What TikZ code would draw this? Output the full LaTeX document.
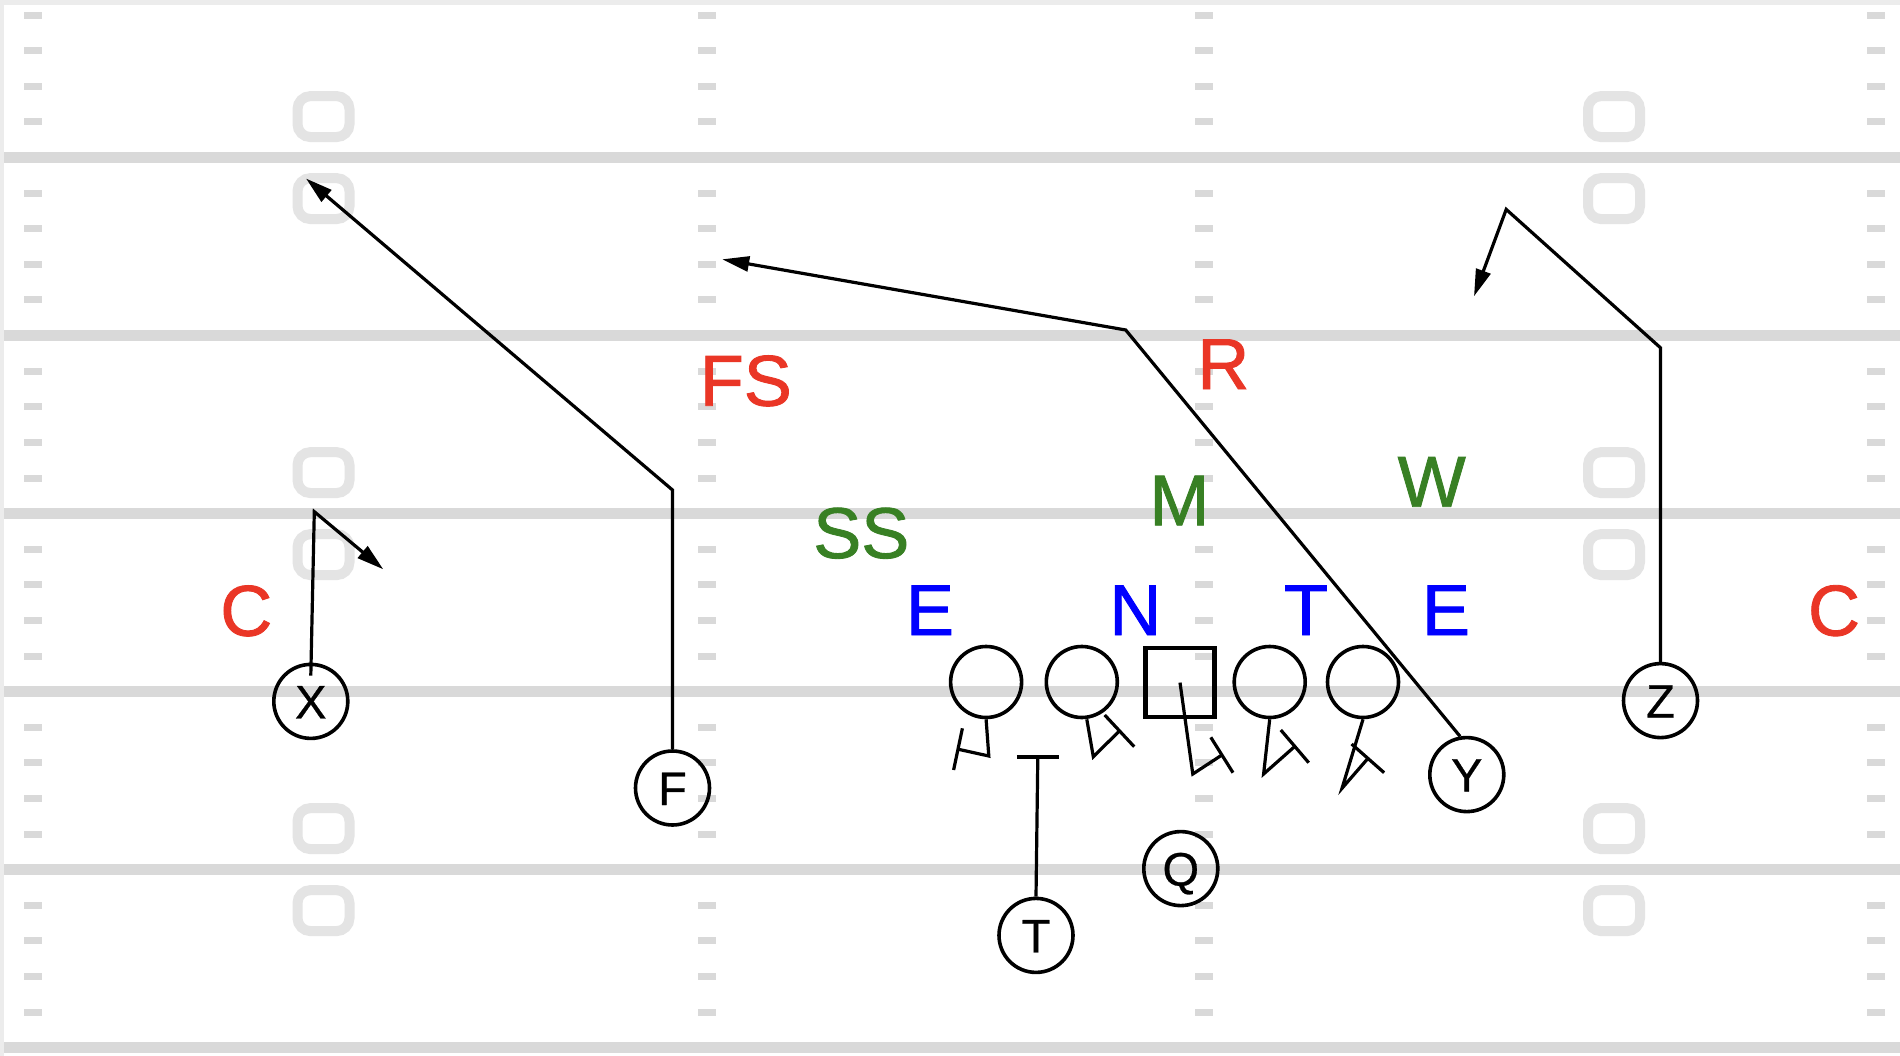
\documentclass[tikz,border=0pt]{standalone}
\usepackage{fontspec}
\setmainfont{Liberation Sans}
\newfontfamily\labelfam[FakeBold=1.2]{Liberation Sans}
\newfontfamily\playerfam[FakeBold=0.6]{Liberation Sans}
\usetikzlibrary{arrows.meta}

\definecolor{dred}{RGB}{234,54,38}
\definecolor{dgreen}{RGB}{56,128,36}
\definecolor{dblue}{RGB}{0,0,255}
\definecolor{yardgray}{RGB}{217,217,217}
\definecolor{numgray}{RGB}{228,228,228}
\definecolor{framegray}{RGB}{236,236,236}

\newcommand\deffont{\labelfam\fontsize{72}{72}\selectfont}
\newcommand\plfont{\playerfam\fontsize{47}{47}\selectfont}

\tikzset{
  player/.style={circle, draw, line width=3.6pt, minimum size=74pt, inner sep=0pt, font=\plfont, text height=34pt, text depth=0pt},
  lineman/.style={circle, draw, line width=3.6pt, minimum size=71pt, inner sep=0pt},
  snapbox/.style={rectangle, draw, line width=4.2pt, minimum size=69pt, inner sep=0pt},
  route/.style={line width=3.2pt, -{Triangle[length=27pt,width=15pt]}},
  block/.style={line width=3.2pt},
  defd/.style={font=\deffont, anchor=base, inner sep=0pt}
}

\begin{document}
\begin{tikzpicture}[x=1pt, y=-1pt]
% field frame
\useasboundingbox (0,0) rectangle (1900,1056);
\fill[framegray] (0,0) rectangle (1900,1056);
\fill[white] (4.2,4.7) rectangle (1900,1056);

% yard lines
\foreach \yl in {157.6,335.6,513.6,691.6,869.6,1047.6}
  \fill[yardgray] (4.2,\yl-5.5) rectangle (1900,\yl+5.5);

% hash marks
\foreach \hx in {33,706.5,1204,1876}
  \foreach \yl in {-20.4,157.6,335.6,513.6,691.6,869.6}
    \foreach \k in {1,...,4}
      \fill[yardgray] (\hx-9,\yl+35.6*\k-3.5) rectangle (\hx+9,\yl+35.6*\k+3.5);

% yard numbers
\foreach \nx in {323.5,1614}
  \foreach \ny in {116.6,198.6,472.6,554.6,828.6,910.6}
    \draw[numgray, line width=10pt, rounded corners=13pt] (\nx-26,\ny-20.5) rectangle (\nx+26,\ny+20.5);

% offensive line
\node[lineman] (lt) at (986.1,682) {};
\node[lineman] (lg) at (1081.8,682) {};
\node[snapbox] (ctr) at (1180,682.6) {};
\node[lineman] (rg) at (1269.7,682) {};
\node[lineman] (rt) at (1363,682) {};

% backs and receivers
\node[player] (xr) at (310.8,701.4) {X};
\node[player] (fb) at (672.5,788) {F};
\node[player] (tb) at (1036,935.4) {T};
\node[player] (qb) at (1180.8,868.6) {Q};
\node[player] (ye) at (1466.8,774.6) {Y};
\node[player] (zr) at (1660.5,700.6) {Z};

% defense
\node[defd, dred] (cl) at (246.3,635.7) {C};
\node[defd, dred] (cr) at (1834,635.5) {C};
\node[defd, dred] (fs) at (745.8,405.7) {FS};
\node[defd, dred] (rov) at (1223.3,389) {R};
\node[defd, dgreen] (ss) at (861.3,558) {SS};
\node[defd, dgreen] (mik) at (1179.4,525.3) {M};
\node[defd, dgreen] (wil) at (1431.7,506.7) {W};
\node[defd, dblue] (el) at (930,635) {E};
\node[defd, dblue] (nt) at (1135.4,635) {N};
\node[defd, dblue] (dt) at (1306,635) {T};
\node[defd, dblue] (er) at (1446,635) {E};

% route turns and ends
\coordinate (xbreak) at (314.3,511.7);
\coordinate (xend) at (383.3,569.3);
\coordinate (fbreak) at (672.5,490);
\coordinate (fend) at (306,178.5);
\coordinate (ybreak) at (1125.7,330);
\coordinate (yend) at (722.2,259.3);
\coordinate (zbreak) at (1660.5,347.8);
\coordinate (zturn) at (1506.2,209.4);
\coordinate (zend) at (1474,296.3);

% routes
\draw[route] ([yshift=-13pt]xr.north) -- (xbreak) -- (xend);
\draw[route] (fb.north) -- (fbreak) -- (fend);
\draw[route] (ye.100) -- (ybreak) -- (yend);
\draw[route] (zr.north) -- (zbreak) -- (zturn) -- (zend);

% blocks
\coordinate (tbar) at (1037.8,757);
\draw[block] (tb.north) -- (tbar);
\draw[block] ([xshift=-21pt]tbar) -- ([xshift=21pt]tbar);

\coordinate (ltstem) at (988.8,756);
\coordinate (ltend) at (958,749.2);
\draw[block] (lt.south) -- (ltstem) -- (ltend);
\draw[block] (962.4,728.3) -- (953.6,770);

\coordinate (lgstem) at (1093.3,756.7);
\coordinate (lgend) at (1119.5,730.9);
\draw[block] ([xshift=5pt]lg.south) -- (lgstem) -- (lgend);
\draw[block] (1104.7,715) -- (1134.2,746.7);

\coordinate (cstem) at (1192.8,774);
\coordinate (cend) at (1221.9,755);
\draw[block] (ctr.center) -- (cstem) -- (cend);
\draw[block] (1210.8,737.3) -- (1233,772.7);

\coordinate (rgstem) at (1263.6,774);
\coordinate (rgend) at (1294.8,746.4);
\draw[block] (rg.south) -- (rgstem) -- (rgend);
\draw[block] (1280.8,730) -- (1308.7,762.7);

\coordinate (rtstem) at (1342,788.3);
\coordinate (rtend) at (1367.9,758.4);
\draw[block] (rt.south) -- (rtstem) -- (rtend);
\draw[block] (1351.6,744) -- (1384.1,772.7);

\end{tikzpicture}
\end{document}
